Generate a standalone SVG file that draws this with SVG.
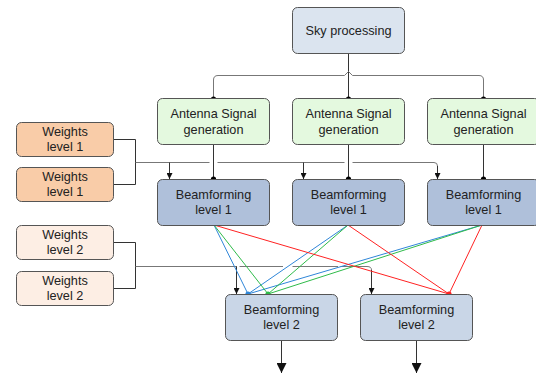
<svg xmlns="http://www.w3.org/2000/svg" width="536" height="375" viewBox="0 0 536 375">
  <defs>
    <marker id="arr" viewBox="0 0 10 10" refX="10" refY="5" markerWidth="6" markerHeight="6" orient="auto" markerUnits="userSpaceOnUse">
      <path d="M0,0 L10,5 L0,10 z" fill="#111"/>
    </marker>
    <marker id="arrBig" viewBox="0 0 10 10" refX="10" refY="5" markerWidth="11" markerHeight="10" orient="auto" markerUnits="userSpaceOnUse">
      <path d="M0,0 L10,5 L0,10 z" fill="#111"/>
    </marker>
  </defs>
  <style>
    .box { stroke: #555; stroke-width: 1; }
    .sky { fill: #dbe4ef; }
    .ant { fill: #e4f9df; }
    .bf1 { fill: #afc0da; }
    .bf2 { fill: #c9d6e7; }
    .w1 { fill: #f9cca8; }
    .w2 { fill: #fdeee4; }
    text { font-family: "Liberation Sans", Arial, sans-serif; font-size: 12.7px; fill: #222; text-anchor: middle; }
    .wire { fill: none; stroke: #333; stroke-width: 1; }
    .bus { fill: none; stroke: #777; stroke-width: 1; }
    .dot { fill: #000; }
    .blue { stroke: #2f86d8; stroke-width: 1; fill: none; }
    .green { stroke: #2fbb4a; stroke-width: 1; fill: none; }
    .red { stroke: #f22; stroke-width: 1; fill: none; }
  </style>

  <!-- connectors -->
  <g id="connectors">
    <!-- sky processing fan-out -->
    <path class="wire" d="M348.5,53 V99"/>
    <path class="bus" d="M213.5,99 V80 Q213.5,75.5 218,75.5 H344.5 L348.5,71.5 L352.5,75.5 H479 Q483.5,75.5 483.5,80 V99"/>
    <!-- antenna signal to beamforming level 1 -->
    <path class="wire" d="M213.5,144 V179"/>
    <path class="wire" d="M348.5,144 V179"/>
    <path class="wire" d="M483.5,144 V179"/>
    <!-- weights level 1 -->
    <path class="wire" d="M113,139.5 H135.5 V184.5 H113"/>
    <path class="bus" d="M135.5,162.5 H209.5 M217.5,162.5 H344.5 M352.5,162.5 H434 Q437.5,162.5 437.5,166 V171"/>
    <path class="wire" d="M169.5,162.5 V179" marker-end="url(#arr)"/>
    <path class="wire" d="M303.5,162.5 V179" marker-end="url(#arr)"/>
    <path class="wire" d="M437.5,166 V179" marker-end="url(#arr)"/>
    <!-- weights level 2 -->
    <path class="wire" d="M113,242.5 H135.5 V288.5 H113"/>
    <path class="bus" d="M135.5,266.5 H237 M239.5,266.5 H283 M292.5,266.5 H338 M340.5,266.5 H367 Q371.5,266.5 371.5,270 V275"/>
    <path class="wire" d="M236.5,266.5 V294" marker-end="url(#arr)"/>
    <path class="wire" d="M371.5,270 V294" marker-end="url(#arr)"/>
    <!-- beamforming level 1 to level 2 -->
    <path class="blue" d="M214,225 L248,294 M348,225 L248,294 M482,225 L248,294"/>
    <path class="green" d="M214,225 L268,294 M348,225 L268,294 M482,225 L268,294"/>
    <path class="red" d="M214,225 L449,294 M348,225 L449,294 M482,225 L449,294"/>
    <!-- outputs -->
    <path class="wire" d="M281.5,340 V373" marker-end="url(#arrBig)"/>
    <path class="wire" d="M416.5,340 V373" marker-end="url(#arrBig)"/>
    <!-- junction dots -->
    <circle class="dot" cx="213.5" cy="99" r="2.6"/>
    <circle class="dot" cx="348.5" cy="99" r="2.6"/>
    <circle class="dot" cx="483.5" cy="99" r="2.6"/>
    <circle class="dot" cx="213.5" cy="179" r="2.6"/>
    <circle class="dot" cx="348.5" cy="179" r="2.6"/>
    <circle class="dot" cx="483.5" cy="179" r="2.6"/>
    <circle cx="248" cy="294" r="2.6" fill="#2f86d8"/>
    <circle cx="268" cy="294" r="2.6" fill="#2fbb4a"/>
    <circle cx="449" cy="294" r="2.6" fill="#f22"/>
  </g>

  <!-- nodes -->
  <g id="sky">
    <rect class="box sky" x="292.5" y="7.5" width="112" height="46" rx="5"/>
    <text x="348.5" y="35">Sky processing</text>
  </g>
  <g id="ant1">
    <rect class="box ant" x="157.5" y="98.5" width="112" height="46" rx="5"/>
    <text x="213.5" y="118">Antenna Signal</text>
    <text x="213.5" y="134">generation</text>
  </g>
  <g id="ant2">
    <rect class="box ant" x="292.5" y="98.5" width="112" height="46" rx="5"/>
    <text x="348.5" y="118">Antenna Signal</text>
    <text x="348.5" y="134">generation</text>
  </g>
  <g id="ant3">
    <rect class="box ant" x="427.5" y="98.5" width="112" height="46" rx="5"/>
    <text x="483.5" y="118">Antenna Signal</text>
    <text x="483.5" y="134">generation</text>
  </g>
  <g id="bf1a">
    <rect class="box bf1" x="157.5" y="179.5" width="112" height="46" rx="5"/>
    <text x="213.5" y="199">Beamforming</text>
    <text x="213.5" y="214">level 1</text>
  </g>
  <g id="bf1b">
    <rect class="box bf1" x="292.5" y="179.5" width="112" height="46" rx="5"/>
    <text x="348.5" y="199">Beamforming</text>
    <text x="348.5" y="214">level 1</text>
  </g>
  <g id="bf1c">
    <rect class="box bf1" x="427.5" y="179.5" width="112" height="46" rx="5"/>
    <text x="483.5" y="199">Beamforming</text>
    <text x="483.5" y="214">level 1</text>
  </g>
  <g id="w1a">
    <rect class="box w1" x="16.5" y="122.5" width="97" height="34" rx="5"/>
    <text x="65" y="136">Weights</text>
    <text x="65" y="151">level 1</text>
  </g>
  <g id="w1b">
    <rect class="box w1" x="16.5" y="167.5" width="97" height="34" rx="5"/>
    <text x="65" y="181">Weights</text>
    <text x="65" y="196">level 1</text>
  </g>
  <g id="w2a">
    <rect class="box w2" x="16.5" y="225.5" width="97" height="34" rx="5"/>
    <text x="65" y="239">Weights</text>
    <text x="65" y="254">level 2</text>
  </g>
  <g id="w2b">
    <rect class="box w2" x="16.5" y="271.5" width="97" height="34" rx="5"/>
    <text x="65" y="285">Weights</text>
    <text x="65" y="300">level 2</text>
  </g>
  <g id="bf2a">
    <rect class="box bf2" x="225.5" y="294.5" width="112" height="46" rx="5"/>
    <text x="281.5" y="314">Beamforming</text>
    <text x="281.5" y="329">level 2</text>
  </g>
  <g id="bf2b">
    <rect class="box bf2" x="360.5" y="294.5" width="112" height="46" rx="5"/>
    <text x="416.5" y="314">Beamforming</text>
    <text x="416.5" y="329">level 2</text>
  </g>
</svg>
